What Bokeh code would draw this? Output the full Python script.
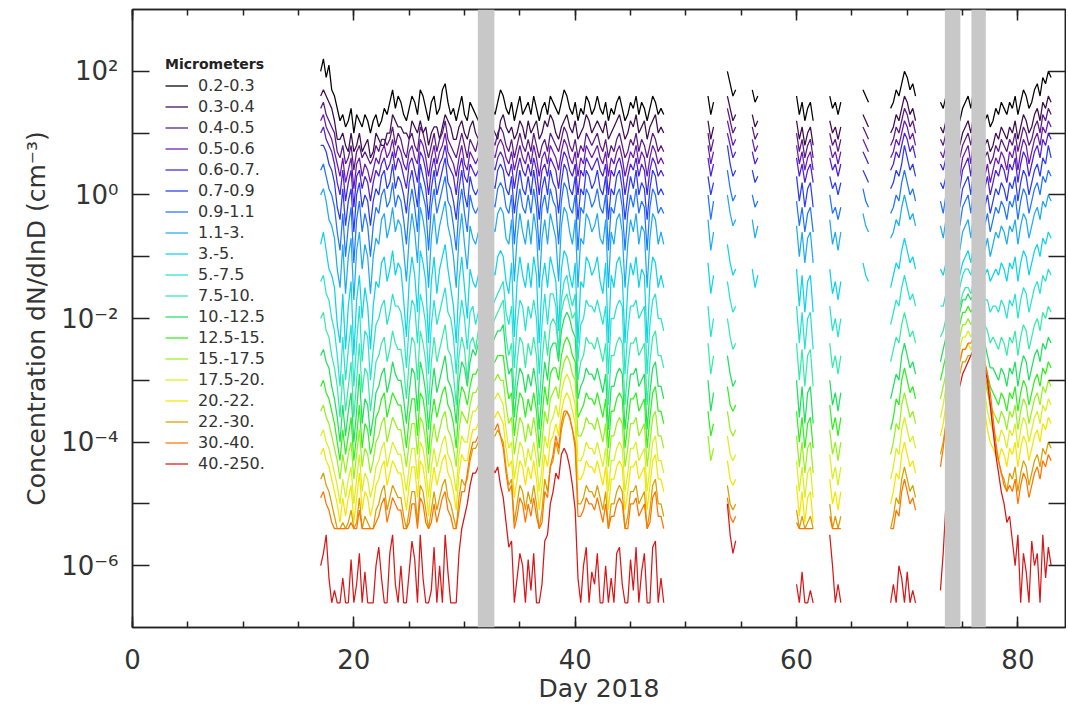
from bokeh.plotting import figure
from bokeh.models import (Legend, LegendItem, FixedTicker, SingleIntervalTicker,
                          CustomJSTickFormatter, LinearAxis, LogAxis, BoxAnnotation, Range1d)
from bokeh.embed import file_html
from bokeh.resources import INLINE

N = float("nan")

# ---------------- data ----------------
# sample times (day of 2018)
day_main = [17.0 + 0.25 * i for i in range(125)]                     # 17.00 ... 48.00
day_late = ([52.0, 52.25, 52.5, 53.75, 54.0, 54.25, 54.5, 56.0, 56.25, 56.5,
             60.0, 60.25, 60.5, 60.75, 61.0, 61.25, 61.5, 63.0, 63.25, 63.5, 63.75, 64.0,
             66.0, 66.25, 66.5, 68.5, 68.75, 69.0, 69.25, 69.5, 69.75, 70.0, 70.25, 70.5, 70.75]
            + [73.0 + 0.25 * i for i in range(41)])                     # 73.00 ... 83.00

size_bins = ["0.2-0.3", "0.3-0.4", "0.4-0.5", "0.5-0.6", "0.6-0.7.", "0.7-0.9",
             "0.9-1.1", "1.1-3.", "3.-5.", "5.-7.5", "7.5-10.", "10.-12.5",
             "12.5-15.", "15.-17.5", "17.5-20.", "20.-22.", "22.-30.", "30.-40.",
             "40.-250."]

bin_colors = ["#000000", "#3c0c50", "#5a1a80", "#6a1ab0", "#4a20d8", "#2a3cf2",
              "#2074ff", "#20aaf0", "#10d2e8", "#28e2d0", "#38eaa8", "#20e060",
              "#30f020", "#98f020", "#d8f020", "#f8e400", "#d8a000", "#ff7400",
              "#d81818"]

# concentration as log10(dN/dlnD) in tenths of a decade (e.g. 14 -> 10**1.4 cm^-3)
t_02_03 = [20,22,19,21,17,16,14,12,13,11,12,14,10,13,12,11,13,12,10,12,13,11,12,14,13,
           15,17,14,16,15,13,12,14,16,15,13,17,16,14,12,15,16,13,14,17,18,15,13,14,12,
           14,16,13,12,15,14,13,12,14,13,15,16,14,13,15,17,16,14,13,15,12,14,16,13,14,
           15,13,16,14,12,14,15,13,16,15,14,13,15,17,16,14,13,15,12,14,13,16,15,13,14,
           16,14,13,15,12,14,13,15,16,14,12,13,15,14,16,13,15,14,12,14,16,15,13,14,13,
           16,13,15, 20,18,16,17, 17,15,16, 16,13,15,12,14,15,12, 16,14,15,13,15, 17,16,15,
           14,15,17,16,18,20,19,17,18,16,
           15,14,16,13,14,15,13,12,14,15, 16,14,17,15,13,14,12,13,11,12,
           14,13,15,14,13,15,14,16,13,15, 17,16,14,15,17,18,16,19,18,20, 19]
t_03_04 = [16,17,16,15,14,12,9,9,10,8,7,10,7,8,10,7,8,9,6,7,10,9,8,8,10,
           10,13,12,11,11,10,10,9,12,11,10,12,10,11,8,10,11,11,9,11,13,12,11,9,9,
           11,12,10,9,11,12,10,9,10,11,12,13,11,10,9,12,13,11,10,11,9,10,12,11,9,
           12,10,11,12,9,10,12,11,13,12,10,9,11,12,13,11,10,12,9,10,11,13,12,10,11,
           12,11,10,12,9,10,11,12,13,11,9,10,12,11,13,10,11,12,9,11,12,13,10,11,10,
           12,9,11, 16,14,12,13, 13,11,12, 12,9,11,8,10,11,8, 12,10,11,9,11, 13,12,11,
           10,11,13,12,14,16,15,13,14,12,
           11,10,12,9,10,11,9,8,10,11, 12,10,13,11,9,10,8,9,7,8,
           10,9,11,10,9,11,10,12,9,11, 13,12,10,11,13,14,12,15,14,16, 15]
t_04_05 = [14,15,13,12,11,10,7,6,8,5,6,8,4,7,8,6,7,6,5,6,8,7,9,9,8,
           9,11,8,10,9,7,6,9,10,8,7,11,10,8,6,8,10,7,9,10,12,9,8,7,6,
           8,10,8,6,9,8,7,9,8,7,9,10,9,8,10,11,10,8,7,9,6,8,10,8,7,
           9,7,10,8,6,8,9,7,10,9,8,7,9,11,10,8,7,9,6,8,7,10,9,8,9,
           10,8,7,9,6,8,7,9,10,8,6,7,9,8,10,7,9,8,6,8,10,9,7,8,7,
           10,7,9, 14,12,10,11, 11,9,10, 10,7,9,6,8,9,6, 10,8,9,7,9, 11,10,9,
           8,9,11,10,12,14,13,11,12,10,
           9,8,10,7,8,9,7,6,8,9, 10,8,11,9,7,8,6,7,5,6,
           8,7,9,8,7,9,8,10,7,9, 11,10,8,9,11,12,10,13,12,14, 13]
t_05_06 = [12,13,11,10,9,7,5,3,6,2,4,6,1,5,6,3,5,4,2,4,6,5,7,8,6,
           7,9,6,8,7,5,4,7,8,6,5,9,8,6,3,6,8,5,7,8,10,7,6,5,3,
           6,8,5,4,7,6,5,6,6,5,7,8,7,6,8,9,8,6,5,7,4,6,8,6,5,
           7,5,8,6,3,6,7,5,8,7,6,4,7,9,8,6,5,7,3,6,5,8,7,6,7,
           8,6,5,7,3,6,5,7,8,6,3,5,7,6,8,5,7,6,3,6,8,7,5,6,5,
           8,5,7, 12,10,8,9, 9,7,8, 8,5,7,4,6,7,4, 8,6,7,5,7, 9,8,7,
           6,7,9,8,10,12,11,9,10,8,
           7,6,8,4,6,7,5,3,6,7, 8,5,9,7,4,6,3,5,2,4,
           6,5,7,6,4,7,6,8,4,7, 9,8,5,7,9,10,8,11,10,12, 11]
t_06_07 = [10,11,9,8,7,5,2,0,4,-1,2,4,-2,3,4,1,3,2,-1,2,4,3,5,6,4,
           5,7,4,6,5,3,1,5,6,4,2,7,6,4,0,4,6,3,5,6,8,5,4,3,0,
           4,6,3,2,5,4,3,4,4,3,5,6,5,4,6,7,6,4,3,5,1,4,6,4,3,
           5,3,6,4,0,4,5,3,6,5,4,1,5,7,6,4,3,5,0,4,3,6,5,4,5,
           6,4,3,5,0,4,3,5,6,4,0,3,5,4,6,3,5,4,0,4,6,5,3,4,3,
           6,3,5, 10,8,6,7, 7,5,6, 6,3,5,2,4,5,2, 6,4,5,3,5, 7,6,5,
           4,5,7,6,8,10,9,7,8,6,
           5,4,6,2,4,5,3,1,4,5, 6,3,7,5,2,4,1,3,0,2,
           4,3,5,4,2,5,4,6,2,5, 7,6,3,5,7,8,6,9,8,10, 9]
t_07_09 = [8,8,7,5,4,2,-2,-4,1,-5,-1,1,-6,0,2,-2,0,-1,-5,-1,1,0,3,4,1,
           2,5,1,3,2,0,-3,2,4,1,-2,5,3,1,-4,1,4,0,2,4,6,2,1,-1,-4,
           1,4,0,-2,3,1,0,1,2,0,3,4,2,1,4,5,4,1,0,3,-3,1,4,1,0,
           3,0,4,1,-4,1,3,0,4,2,1,-3,2,5,4,1,0,3,-4,1,0,4,3,1,2,
           4,1,0,3,-4,1,0,3,4,1,-4,0,3,1,4,0,2,1,-4,1,4,3,0,1,0,
           3,0,2, 8,5,3,4, 4,2,3, 3,-1,2,-2,1,2,-2, 3,1,2,0,2, 4,3,2,
           1,2,4,3,5,8,6,4,5,3,
           2,1,3,-1,1,2,0,-2,1,2, 3,0,4,2,-1,1,-2,0,-3,-1,
           1,0,2,1,-1,2,1,3,-1,2, 4,3,0,2,4,5,3,6,5,8, 6]
t_09_11 = [4,5,3,1,0,-2,-6,-9,-3,-10,-5,-2,-11,-4,-1,-6,-3,-5,-10,-5,-2,-3,0,1,-2,
           -1,2,-2,0,-1,-4,-8,-2,1,-2,-6,2,0,-2,-9,-2,1,-3,-1,1,3,-1,-2,-5,-9,
           -2,1,-3,-6,0,-2,-3,-2,-1,-3,0,1,-1,-2,1,2,1,-2,-3,0,-8,-2,1,-2,-3,
           0,-3,1,-2,-9,-2,0,-3,1,-1,-2,-8,-1,2,1,-2,-3,0,-9,-2,-3,1,0,-2,-1,
           1,-2,-3,0,-9,-2,-3,0,1,-2,-9,-3,0,-2,1,-3,-1,-2,-9,-2,1,0,-3,-2,-3,
           0,-4,-1, 4,1,-1,0, 0,-2,-1, -1,-5,-2,-6,-3,-2,-6, 0,-3,-2,-4,-2, 1,-1,-2,
           -3,-2,0,-1,2,4,2,0,1,-1,
           -1,-3,0,-4,-2,-1,-3,-5,-2,-1, 0,-3,1,-1,-4,-2,-5,-3,-6,-4,
           -2,-3,-1,-2,-4,-1,-2,0,-4,-1, 1,0,-3,-1,1,2,0,3,2,4, 3]
t_11_30 = [0,1,-1,-4,-5,-7,-12,-15,-8,-16,-10,-7,-17,-9,-6,-12,-8,-10,-16,-10,-7,-8,-4,-3,-7,
           -5,-2,-6,-4,-5,-9,-14,-7,-3,-6,-11,-2,-4,-7,-15,-7,-3,-8,-5,-3,-1,-5,-7,-10,-15,
           -7,-3,-8,-12,-5,-7,-8,-6,-5,-8,-4,-3,-5,-6,-3,-2,-3,-7,-8,-4,-14,-7,-3,-6,-8,
           -4,-8,-3,-6,-15,-7,-4,-8,-3,-5,-7,-14,-5,-2,-3,-6,-8,-4,-15,-7,-8,-3,-4,-6,-5,
           -3,-7,-8,-4,-15,-6,-8,-4,-3,-6,-15,-8,-4,-6,-3,-8,-5,-6,-15,-7,-3,-4,-8,-6,-8,
           -4,-9,-6, 0,-3,-5,-4, -4,-7,-5, -5,-10,-6,-11,-7,-6,-11, -4,-8,-6,-9,-6, -3,-5,-6,
           -7,-6,-4,-5,-2,0,-2,-4,-3,-5,
           -5,-7,-4,-8,-6,-5,-7,-9,-6,-5, -4,-7,-3,-5,-8,-6,-9,-7,-10,-8,
           -6,-7,-5,-6,-8,-5,-6,-4,-8,-5, -3,-4,-7,-5,-3,-2,-4,-1,-2,0, -1]
t_30_50 = [-8,-6,-9,-12,-13,-15,-21,-24,-16,-25,-18,-14,-26,-17,-13,-20,-15,-18,-25,-18,-14,-15,-11,-10,-14,
           -12,-9,-13,-11,-12,-17,-23,-14,-10,-13,-19,-9,-11,-14,-24,-14,-10,-16,-12,-10,-8,-12,-15,-18,-24,
           -14,-10,-15,-20,-12,-14,-15,-13,-12,-15,-11,-10,-12,-13,-10,-9,-10,-14,-16,-11,-23,-14,-10,-13,-15,
           -11,-15,-10,-13,-24,-14,-11,-15,-10,-12,-14,-22,-12,-9,-10,-13,-15,-11,-24,-14,-15,-10,-11,-13,-12,
           -10,-14,-16,-11,-24,-13,-15,-11,-10,-13,-24,-15,-11,-13,-10,-15,-12,-13,-24,-14,-10,-11,-15,-13,-15,
           -11,-16,-13, -8,-11,-13,-12, -12,-15,-13, -12,-18,-13,-19,-14,-13,-19, -12,-16,-14,-17,-14, -11,-13,-14,
           -15,-13,-11,-12,-9,-7,-9,-11,-10,-12,
           -12,-13,-11,-13,-12,-11,-12,-13,-11,-10, -9,-11,-8,-10,-12,-11,-13,-12,-14,-13,
           -12,-13,-11,-12,-14,-11,-12,-10,-14,-11, -9,-10,-13,-11,-9,-8,-10,-7,-8,-6, -7]
t_50_75 = [-14,-13,-16,-17,-20,-22,-26,-31,-23,-30,-25,-21,-31,-24,-18,-27,-22,-23,-30,-25,-21,-20,-18,-17,-21,
           -19,-16,-18,-18,-19,-22,-28,-21,-17,-18,-24,-16,-18,-21,-29,-21,-17,-21,-19,-17,-15,-19,-20,-23,-29,
           -21,-17,-20,-25,-19,-18,-21,-19,-16,-20,-17,-14,-18,-17,-16,-15,-14,-19,-21,-18,-28,-21,-17,-18,-22,
           -18,-20,-17,-20,-29,-21,-16,-21,-16,-16,-18,-26,-17,-14,-13,-16,-18,-16,-27,-21,-20,-17,-18,-18,-19,
           -17,-19,-21,-18,-29,-20,-20,-18,-17,-18,-29,-22,-18,-18,-17,-20,-19,-18,-29,-21,-17,-16,-20,-20,-22,
           -18,-23,-20, -14,-17,-19,-18, N,N,N, -18,-24,-19,-25,-20,-19,-25, -18,-22,-20,-23,-20, N,N,N,
           -21,-19,-17,-18,-15,-13,-15,-17,-16,-18,
           -18,-18,-16,-17,-15,-14,-14,-15,-13,-12, -12,-13,-11,-13,-15,-15,-17,-17,-19,-18,
           -18,-19,-17,-18,-20,-17,-18,-16,-20,-17, -15,-16,-19,-17,-15,-14,-16,-13,-14,-12, -13]
t_75_100 = [-20,-19,-22,-23,-26,-28,-31,-36,-29,-35,-31,-27,-36,-30,-24,-32,-28,-29,-35,-31,-27,-26,-24,-23,-27,
            -25,-22,-24,-25,-25,-28,-33,-27,-23,-24,-30,-22,-24,-27,-34,-27,-23,-27,-25,-23,-21,-25,-26,-29,-34,
            -26,-23,-25,-30,-24,-23,-25,-22,-20,-23,-20,-18,-21,-20,-19,-18,-17,-23,-26,-24,-33,-27,-23,-24,-28,
            -24,-26,-23,-26,-34,-27,-22,-26,-21,-20,-21,-25,-19,-17,-16,-18,-20,-19,-30,-27,-26,-23,-24,-24,-25,
            -23,-25,-27,-24,-34,-26,-26,-24,-23,-24,-34,-28,-24,-24,-23,-26,-25,-24,-34,-27,-23,-22,-26,-26,-28,
            -24,-29,-26, -20,-23,-25,-24, N,N,N, -24,-30,-25,-31,-26,-25,-31, -24,-28,-26,-29,-26, N,N,N,
            -27,-25,-23,-24,-21,-19,-21,-23,-22,-24,
            -23,-22,-20,-21,-19,-17,-17,-18,-16,-15, -15,-16,-14,-16,-18,-19,-21,-22,-24,-23,
            -24,-25,-23,-24,-26,-23,-24,-22,-26,-23, -21,-22,-25,-23,-21,-20,-22,-19,-20,-18, -19]
t_100_125 = [-26,-25,-27,-28,-31,-33,-36,-40,-34,-39,-35,-32,-40,-35,-29,-37,-33,-34,-39,-36,-32,-31,-29,-28,-32,
             -30,-27,-29,-30,-30,-33,-37,-32,-28,-29,-35,-27,-29,-32,-38,-32,-28,-32,-30,-28,-26,-30,-31,-33,-37,
             -30,-27,-28,-31,-27,-25,-26,-24,-23,-25,-23,-22,-24,-23,-22,-22,-21,-26,-29,-28,-36,-31,-28,-29,-32,
             -29,-31,-28,-31,-38,-32,-27,-30,-25,-24,-24,-27,-22,-20,-19,-20,-22,-23,-33,-31,-30,-28,-29,-29,-30,
             -28,-30,-32,-29,-38,-31,-31,-29,-28,-29,-38,-33,-29,-29,-28,-31,-30,-29,-38,-32,-28,-27,-31,-31,-33,
             -30,-35,-32, -26,-29,-31,-30, N,N,N, -30,-36,-31,-37,-32,-31,-37, -30,-34,-32,-35,-32, N,N,N,
             -33,-31,-29,-30,-26,-24,-26,-28,-27,-29,
             -27,-25,-23,-22,-21,-19,-18,-19,-17,-17, -16,-17,-16,-18,-20,-22,-24,-26,-28,-28,
             -29,-30,-28,-29,-31,-28,-29,-27,-31,-28, -26,-27,-30,-28,-26,-25,-27,-24,-25,-23, -24]
t_125_150 = [-31,-30,-32,-33,-35,-37,-40,-43,-38,-42,-39,-36,-43,-39,-34,-41,-37,-38,-42,-40,-36,-35,-33,-32,-36,
             -34,-32,-33,-34,-34,-37,-41,-36,-33,-33,-39,-32,-33,-36,-42,-36,-33,-36,-34,-32,-31,-34,-35,-37,-41,
             -34,-31,-32,-34,-31,-29,-29,-28,-27,-28,-27,-26,-27,-27,-26,-26,-26,-30,-33,-32,-39,-35,-32,-33,-36,
             -33,-35,-32,-35,-41,-36,-31,-34,-29,-28,-28,-30,-26,-24,-23,-24,-26,-27,-36,-35,-34,-32,-33,-33,-34,
             -32,-34,-36,-33,-41,-35,-35,-33,-32,-33,-41,-37,-33,-33,-32,-35,-34,-33,-41,-36,-32,-31,-35,-35,-37,
             -35,-39,-37, -31,-34,-35,-34, N,N,N, -35,-40,-36,-41,-37,-36,-41, -34,-38,-36,-39,-36, N,N,N,
             -38,-36,-33,-34,-30,-28,-30,-32,-31,-33,
             -30,-28,-26,-24,-23,-21,-20,-21,-19,-19, -18,-19,-18,-20,-22,-25,-27,-29,-31,-32,
             -33,-34,-32,-33,-35,-32,-33,-31,-35,-32, -30,-31,-34,-32,-30,-29,-31,-28,-29,-27, -28]
t_150_175 = [-35,-34,-36,-37,-39,-41,-43,-46,-42,-45,-42,-40,-46,-42,-38,-44,-41,-42,-45,-43,-40,-39,-37,-36,-40,
             -38,-36,-37,-38,-38,-41,-44,-40,-37,-37,-42,-36,-37,-40,-45,-40,-37,-40,-38,-36,-35,-38,-39,-41,-44,
             -38,-35,-36,-37,-34,-32,-32,-31,-30,-31,-30,-29,-30,-30,-29,-30,-30,-34,-37,-36,-42,-39,-36,-37,-40,
             -37,-39,-36,-39,-44,-40,-35,-37,-33,-32,-31,-33,-29,-27,-26,-27,-29,-30,-39,-39,-38,-36,-37,-37,-38,
             -36,-38,-40,-37,-44,-39,-39,-37,-36,-37,-44,-41,-37,-37,-36,-39,-38,-37,-44,-40,-36,-35,-39,-39,-41,
             -39,-43,-41, -35,-38,-39,-38, N,N,N, -39,-44,-40,-45,-41,-40,-45, -38,-42,-40,-43,-40, N,N,N,
             -42,-40,-37,-38,-34,-32,-34,-36,-35,-37,
             -33,-31,-29,-27,-25,-23,-22,-23,-21,-21, -20,-21,-20,-22,-24,-27,-30,-32,-34,-35,
             -36,-37,-35,-36,-38,-35,-36,-34,-38,-35, -33,-34,-37,-35,-33,-32,-34,-31,-32,-30, -31]
t_175_200 = [-39,-38,-40,-41,-43,-45,-47,-50,-46,-49,-46,-44,-50,-46,-42,-48,-45,-46,-49,-47,-44,-43,-41,-40,-44,
             -42,-40,-41,-42,-42,-45,-48,-44,-41,-41,-46,-40,-41,-44,-49,-44,-41,-44,-42,-40,-39,-42,-43,-45,-48,
             -42,-39,-40,-40,-37,-35,-35,-34,-33,-34,-33,-32,-33,-33,-32,-33,-34,-38,-41,-40,-46,-43,-40,-41,-44,
             -41,-43,-40,-43,-48,-44,-39,-41,-37,-36,-34,-36,-32,-30,-29,-30,-32,-34,-43,-43,-42,-40,-41,-41,-42,
             -40,-42,-44,-41,-48,-43,-43,-41,-40,-41,-48,-45,-41,-41,-40,-43,-42,-41,-48,-44,-40,-39,-43,-43,-45,
             N,N,N, -39,-42,-43,-42, N,N,N, -43,-48,-44,-49,-45,-44,-49, -42,-46,-44,-47,-44, N,N,N,
             -46,-44,-41,-42,-38,-36,-38,-40,-39,-41,
             -36,-34,-31,-29,-27,-25,-24,-25,-23,-23, -22,-23,-22,-24,-26,-29,-32,-35,-37,-38,
             -39,-40,-38,-39,-41,-38,-39,-37,-41,-38, -36,-37,-40,-38,-36,-35,-37,-34,-35,-33, -34]
t_200_220 = [-42,-41,-43,-44,-46,-48,-50,-53,-49,-52,-49,-47,-53,-49,-45,-51,-48,-49,-52,-50,-47,-46,-44,-43,-47,
             -45,-43,-44,-45,-45,-48,-51,-47,-44,-44,-49,-43,-44,-47,-52,-47,-44,-47,-45,-43,-42,-45,-46,-48,-51,
             -45,-42,-43,-43,-40,-38,-38,-37,-36,-37,-36,-35,-36,-36,-35,-36,-37,-41,-44,-43,-49,-46,-43,-44,-47,
             -44,-46,-43,-46,-51,-47,-42,-44,-40,-39,-37,-39,-35,-33,-32,-33,-35,-37,-46,-46,-45,-43,-44,-44,-45,
             -43,-45,-47,-44,-51,-46,-46,-44,-43,-44,-51,-48,-44,-44,-43,-46,-45,-44,-51,-47,-43,-42,-46,-46,-48,
             N,N,N, -43,-46,-47,-46, N,N,N, -47,-52,-48,-53,-49,-48,-53, -46,-50,-48,-51,-48, N,N,N,
             -50,-48,-45,-46,-42,-40,-42,-44,-43,-45,
             -39,-37,-34,-31,-29,-27,-26,-27,-25,-25, -24,-25,-24,-26,-28,-31,-35,-38,-40,-41,
             -42,-43,-41,-42,-44,-41,-42,-40,-44,-41, -39,-40,-43,-41,-39,-38,-40,-37,-38,-36, -37]
t_220_300 = [-46,-45,-47,-48,-50,-52,-54,-54,-53,-54,-53,-51,-54,-53,-49,-54,-52,-53,-54,-54,-51,-50,-48,-47,-51,
             -49,-47,-48,-49,-49,-52,-54,-51,-48,-48,-53,-47,-48,-51,-54,-51,-48,-51,-49,-47,-46,-49,-50,-52,-54,
             -49,-46,-47,-46,-43,-41,-41,-40,-39,-40,-39,-38,-39,-39,-38,-39,-40,-44,-47,-46,-53,-50,-47,-48,-51,
             -48,-50,-47,-50,-54,-51,-46,-48,-44,-43,-40,-42,-38,-36,-35,-36,-38,-40,-50,-50,-49,-47,-48,-48,-49,
             -47,-49,-51,-48,-54,-50,-50,-48,-47,-48,-54,-52,-48,-48,-47,-50,-49,-48,-54,-51,-47,-46,-50,-50,-52,
             N,N,N, -47,-50,-51,-50, N,N,N, -51,-54,-52,-54,-53,-52,-54, -50,-54,-52,-54,-52, N,N,N,
             -54,-52,-49,-50,-46,-44,-46,-48,-47,-49,
             -42,-40,-37,-34,-31,-29,-28,-29,-27,-27, -26,-26,-25,-26,-27,-28,-29,-31,-34,-38,
             -41,-43,-45,-46,-48,-45,-46,-44,-48,-45, -43,-44,-47,-45,-43,-42,-44,-41,-42,-40, -41]
t_300_400 = [-49,-48,-50,-51,-53,-54,-54,-54,-54,-54,-54,-53,-54,-54,-51,-54,-54,-54,-54,-54,-53,-52,-50,-49,-53,
             -51,-49,-50,-51,-51,-54,-54,-53,-50,-50,-54,-49,-50,-53,-54,-53,-50,-53,-51,-49,-48,-51,-52,-54,-54,
             -51,-48,-48,-45,-42,-40,-40,-39,-38,-39,-38,-37,-38,-38,-37,-39,-41,-45,-48,-47,-54,-52,-49,-50,-53,
             -50,-52,-49,-52,-54,-53,-48,-49,-44,-42,-39,-41,-37,-35,-35,-36,-38,-41,-52,-52,-51,-49,-50,-50,-51,
             -49,-51,-53,-50,-54,-52,-52,-50,-49,-50,-54,-54,-50,-50,-49,-52,-51,-50,-54,-53,-49,-48,-52,-52,-54,
             N,N,N, -49,-52,-53,-52, N,N,N, -53,-54,-54,-54,-54,-54,-54, -52,-54,-54,-54,-54, N,N,N,
             -54,-54,-51,-52,-48,-46,-48,-50,-49,-51,
             -44,-41,-37,-33,-30,-27,-26,-27,-25,-25, -24,-24,-23,-24,-25,-26,-27,-29,-32,-36,
             -40,-43,-45,-47,-48,-47,-48,-46,-50,-47, -45,-46,-49,-47,-45,-44,-46,-43,-44,-42, -43]
t_400_2500 = [-60,-58,-55,-62,-66,-64,-66,-66,-62,-66,-66,-59,-66,-63,-58,-66,-61,-66,-66,-66,-60,-57,-62,-66,-66,
              -58,-55,-63,-66,-60,-66,-66,-61,-56,-59,-66,-55,-62,-66,-66,-64,-57,-66,-60,-66,-55,-61,-66,-66,-66,
              -58,-54,-52,-50,-47,-45,-45,-44,-43,-44,-43,-42,-44,-45,-44,-47,-49,-53,-57,-56,-66,-62,-58,-60,-66,
              -59,-64,-58,-66,-66,-63,-56,-55,-50,-48,-45,-46,-42,-41,-42,-44,-47,-51,-62,-66,-60,-57,-66,-61,-63,
              -58,-66,-66,-60,-66,-62,-66,-58,-57,-63,-66,-66,-59,-64,-57,-66,-61,-58,-66,-66,-57,-56,-66,-62,-66,
              N,N,N, -50,-55,-58,-56, N,N,N, -63,-66,-61,-66,-66,-64,-66, -55,-60,-66,-63,-66, N,N,N,
              -66,-63,-66,-60,-62,-66,-61,-66,-64,-66,
              -64,-58,-50,-44,-38,-33,-30,-31,-29,-28, -27,-26,-25,-25,-26,-27,-28,-30,-34,-38,
              -42,-45,-48,-50,-53,-52,-56,-60,-55,-66, -58,-61,-66,-56,-60,-58,-66,-55,-62,-57, -60]

series = [t_02_03, t_03_04, t_04_05, t_05_06, t_06_07, t_07_09, t_09_11, t_11_30,
          t_30_50, t_50_75, t_75_100, t_100_125, t_125_150, t_150_175, t_175_200,
          t_200_220, t_220_300, t_300_400, t_400_2500]

# instrument-off periods (grey bands), in days
gap_start = [31.2, 73.4, 75.8]
gap_end = [32.7, 74.8, 77.1]

# ---------------- figure ----------------
FONT = "DejaVu Sans"
TXT = "#333333"
all_days = day_main + day_late

p = figure(width=1066, height=710, x_range=Range1d(0, 84.3), y_range=Range1d(1e-7, 1e3),
           y_axis_type="log", output_backend="svg", toolbar_location=None,
           min_border_left=132, min_border_right=1, min_border_top=9, min_border_bottom=83)
p.grid.visible = False
p.outline_line_color = "#222222"
p.outline_line_width = 1.5
p.background_fill_color = "white"
p.border_fill_color = "white"


def broken(vals):
    vals = (list(vals) + [N] * len(all_days))[:len(all_days)]
    xs, ys, prev = [], [], None
    for d, v in zip(all_days, vals):
        if prev is not None and d - prev > 0.3:
            xs.append(N)
            ys.append(N)
        xs.append(d)
        ys.append(10.0 ** (v / 10.0) if v == v else N)
        prev = d
    return xs, ys


renderers = []
for vals, col in zip(series, bin_colors):
    xs, ys = broken(vals)
    renderers.append(p.line(xs, ys, line_color=col, line_width=1.25))

for s, e in zip(gap_start, gap_end):
    p.add_layout(BoxAnnotation(left=s, right=e, fill_color="#c8c8c8", fill_alpha=1.0,
                               line_alpha=0))

# axes
x_ticker = SingleIntervalTicker(interval=20, num_minor_ticks=4)
y_ticker = FixedTicker(ticks=[10.0 ** e for e in range(-6, 3)], minor_ticks=[])
fmt = CustomJSTickFormatter(code="""
const e = Math.round(Math.log10(tick));
if (e % 2 != 0) return "";
const sup = {"-":"\u207b","0":"\u2070","1":"\u00b9","2":"\u00b2","3":"\u00b3",
             "4":"\u2074","5":"\u2075","6":"\u2076","7":"\u2077","8":"\u2078","9":"\u2079"};
return "10" + String(e).split("").map(c => sup[c]).join("");
""")
blank = CustomJSTickFormatter(code="return '';")

xa = p.xaxis[0]
xa.ticker = x_ticker
xa.axis_label = "Day 2018"
ya = p.yaxis[0]
ya.ticker = y_ticker
ya.formatter = fmt
ya.axis_label = "Concentration dN/dlnD (cm\u207b\u00b3)"

top = LinearAxis(ticker=x_ticker, formatter=blank, major_label_text_font_size="1px",
                 major_label_standoff=0)
right = LogAxis(ticker=y_ticker, formatter=blank, major_label_text_font_size="1px",
                major_label_standoff=0)
p.add_layout(top, "above")
p.add_layout(right, "right")

for ax in [xa, top]:
    ax.major_tick_in = 11
    ax.major_tick_out = 0
    ax.minor_tick_in = 6
    ax.minor_tick_out = 0
for ax in [ya, right]:
    ax.major_tick_in = 17
    ax.major_tick_out = 0
    ax.minor_tick_in = 0
    ax.minor_tick_out = 0
for ax in [xa, ya, top, right]:
    ax.axis_line_color = "#222222"
    ax.axis_line_width = 1.5
    ax.major_tick_line_color = "#222222"
    ax.major_tick_line_width = 1.5
    ax.minor_tick_line_color = "#222222"
    ax.minor_tick_line_width = 1.5

for ax in [xa, ya]:
    ax.major_label_text_font = FONT
    ax.major_label_text_font_size = "26px"
    ax.major_label_text_color = TXT
    ax.axis_label_text_font = FONT
    ax.axis_label_text_font_size = "25px"
    ax.axis_label_text_font_style = "normal"
    ax.axis_label_text_color = TXT
xa.major_label_standoff = 21
xa.axis_label_standoff = 2
ya.major_label_standoff = 14
ya.axis_label_standoff = 7

# legend
items = [LegendItem(label=lab, renderers=[r]) for lab, r in zip(size_bins, renderers)]
legend = Legend(items=items, location=(33, 154), title="Micrometers",
                title_text_font=FONT, title_text_font_size="14px",
                title_text_font_style="bold", title_text_color="#222222", title_standoff=4,
                label_text_font=FONT, label_text_font_size="16px", label_text_color=TXT,
                label_height=17, glyph_height=17, glyph_width=23, label_standoff=10,
                spacing=2, padding=0, margin=0,
                background_fill_alpha=0, border_line_alpha=0)
p.add_layout(legend, "center")

open("out.html", "w", encoding="utf-8").write(file_html(p, INLINE))
